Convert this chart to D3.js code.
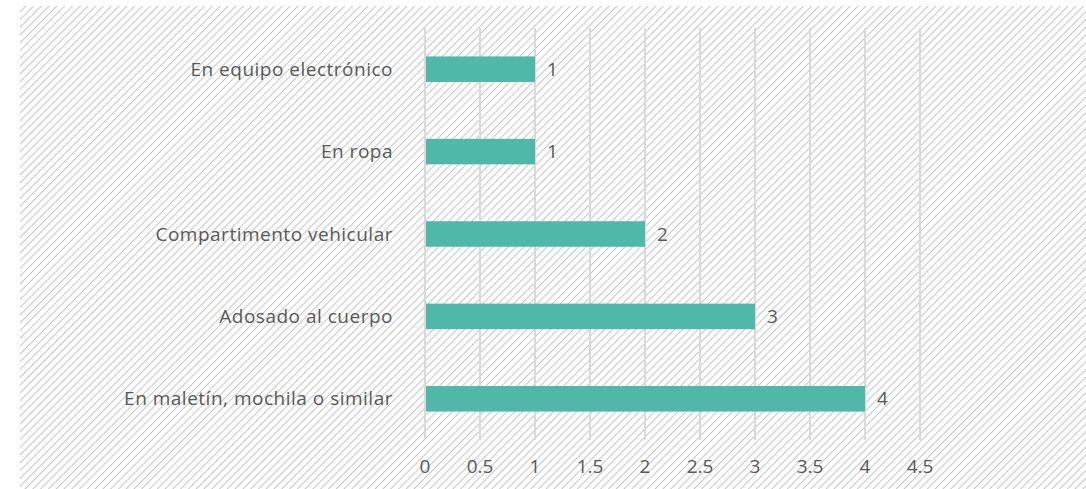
<!DOCTYPE html>
<html><head><meta charset="utf-8">
<script src="https://cdn.jsdelivr.net/npm/d3@7"></script>
<style>body{margin:0;background:#fff}svg{display:block}</style>
</head><body>
<svg id="chart" width="1086" height="489"></svg>
<script>
const categories = ["En equipo electrónico","En ropa","Compartimento vehicular","Adosado al cuerpo","En maletín, mochila o similar"];
const values = [1,1,2,3,4];
const tickValues = [0,0.5,1,1.5,2,2.5,3,3.5,4,4.5];

const svg = d3.select("#chart");
const defs = svg.append("defs");
const pat = defs.append("pattern").attr("id","hatch").attr("patternUnits","userSpaceOnUse")
  .attr("width",5.5).attr("height",5.5).attr("patternTransform","rotate(45)");
pat.append("line").attr("x1",0).attr("y1",0).attr("x2",0).attr("y2",5.5)
  .attr("stroke","#c4c4c4").attr("stroke-width",2);
svg.append("rect").attr("x",20).attr("y",6).attr("width",1066).attr("height",483).attr("fill","url(#hatch)");

const x = d3.scaleLinear().domain([0,4.5]).range([425,920]);
const y = d3.scaleBand().domain(categories).range([28,440]).paddingInner(0.69).paddingOuter(0.345);
const font = "'Open Sans', sans-serif";

svg.append("g").selectAll("line").data(tickValues).join("line")
  .attr("x1",d=>x(d)).attr("x2",d=>x(d)).attr("y1",28).attr("y2",440)
  .attr("stroke","#d9d9d9").attr("stroke-width",2);

svg.append("g").selectAll("rect").data(values).join("rect")
  .attr("x",x(0)+1).attr("y",(d,i)=>y(categories[i]))
  .attr("width",d=>x(d)-x(0)-1).attr("height",y.bandwidth())
  .attr("fill","#4fb8a9");

svg.append("g").selectAll("text").data(values).join("text")
  .attr("x",d=>x(d)+12).attr("y",(d,i)=>y(categories[i])+y.bandwidth()/2)
  .attr("dy","0.35em").text(d=>d)
  .attr("font-family",font).attr("font-size",19).attr("fill","#595959");

svg.append("g").selectAll("text").data(categories).join("text")
  .attr("x",393).attr("y",d=>y(d)+y.bandwidth()/2).attr("dy","0.35em")
  .attr("text-anchor","end").text(d=>d)
  .attr("font-family",font).attr("font-size",19).attr("letter-spacing",0.5)
  .attr("fill","#595959");

svg.append("g").selectAll("text").data(tickValues).join("text")
  .attr("x",d=>x(d)).attr("y",466).attr("dy","0.35em").attr("text-anchor","middle")
  .text(d=>d)
  .attr("font-family",font).attr("font-size",19).attr("fill","#595959");
</script>
</body></html>
